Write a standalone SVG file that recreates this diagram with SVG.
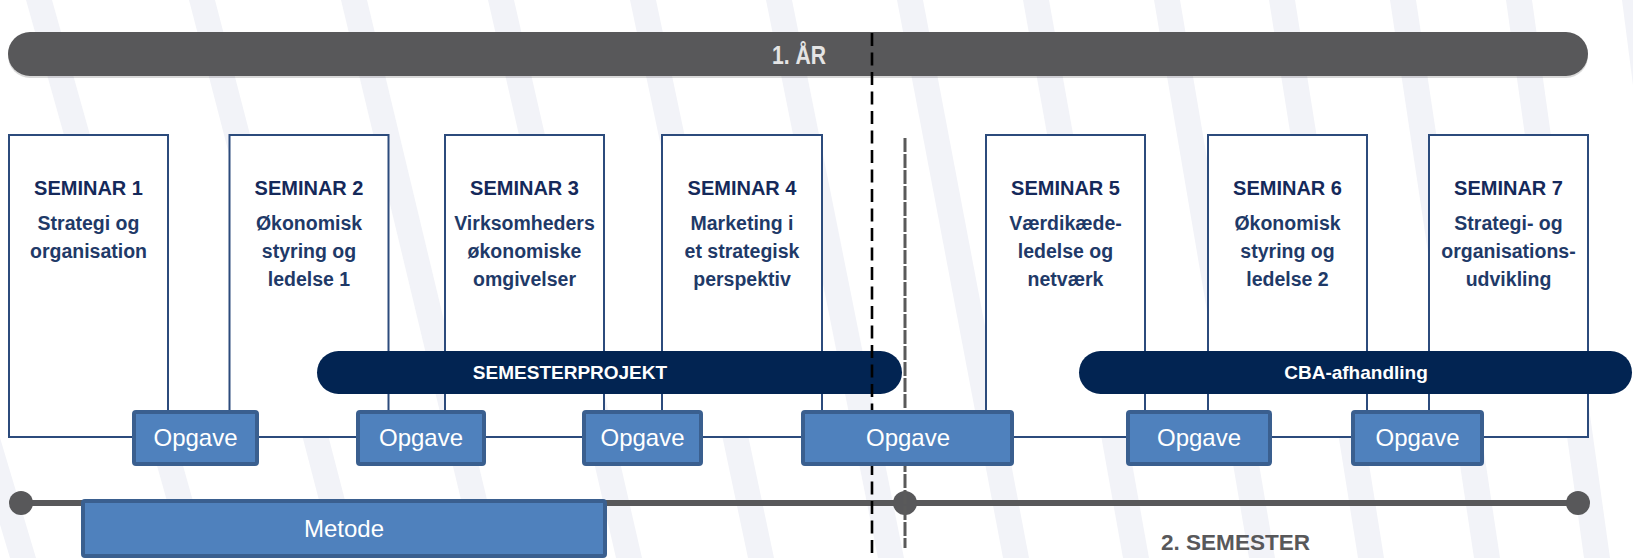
<svg xmlns="http://www.w3.org/2000/svg" width="1633" height="558" viewBox="0 0 1633 558">
<style>
.stripe{fill:#f2f3f8}
.sem{fill:#ffffff;stroke:#2c4b7c;stroke-width:2}
.title{font-family:"Liberation Sans",Arial,sans-serif;font-weight:bold;font-size:20px;fill:#15295a;text-anchor:middle}
.sub{font-family:"Liberation Sans",Arial,sans-serif;font-weight:bold;font-size:19.5px;fill:#1f3a68;text-anchor:middle}
.bar{fill:#022452}
.bartxt{font-family:"Liberation Sans",Arial,sans-serif;font-weight:bold;font-size:19px;fill:#ffffff;text-anchor:middle}
.opg{fill:#4f81bd;stroke:#3a5f8f;stroke-width:4}
.opgtxt{font-family:"Liberation Sans",Arial,sans-serif;font-size:24px;fill:#ffffff;text-anchor:middle}
.gray{fill:#58585a}
</style>
<rect x="0" y="0" width="1633" height="558" fill="#ffffff"/>
<g id="background">
<polygon class="stripe" points="-157,0 -131,0 36,558 10,558"/>
<polygon class="stripe" points="26,0 52,0 209,558 183,558"/>
<polygon class="stripe" points="189,0 215,0 360,558 334,558"/>
<polygon class="stripe" points="341,0 367,0 501,558 475,558"/>
<polygon class="stripe" points="488,0 514,0 642,558 616,558"/>
<polygon class="stripe" points="630,0 656,0 774,558 748,558"/>
<polygon class="stripe" points="766,0 792,0 904,558 878,558"/>
<polygon class="stripe" points="897,0 923,0 1029,558 1003,558"/>
<polygon class="stripe" points="1023,0 1049,0 1149,558 1123,558"/>
<polygon class="stripe" points="1154,0 1180,0 1275,558 1249,558"/>
<polygon class="stripe" points="1269,0 1295,0 1384,558 1358,558"/>
<polygon class="stripe" points="1390,0 1416,0 1500,558 1474,558"/>
<polygon class="stripe" points="1506,0 1532,0 1610,558 1584,558"/>
<polygon class="stripe" points="1622,0 1648,0 1720,558 1694,558"/>
</g>
<g id="year-bar">
<rect x="8" y="34" width="1580" height="44" rx="22" fill="#000000" opacity="0.15"/>
<rect x="8" y="32" width="1580" height="44" rx="22" class="gray"/>
<text x="799" y="64" font-family="'Liberation Sans',Arial,sans-serif" font-weight="bold" font-size="26" fill="#e4e4e4" text-anchor="middle" textLength="54" lengthAdjust="spacingAndGlyphs">1. ÅR</text>
</g>
<g id="seminar1">
<rect class="sem" x="9" y="135" width="159" height="302"/>
<text class="title" x="88.5" y="195">SEMINAR 1</text>
<text class="sub" x="88.5" y="229.5">Strategi og</text>
<text class="sub" x="88.5" y="257.5">organisation</text>
</g>
<g id="seminar2">
<rect class="sem" x="229.5" y="135" width="159" height="302"/>
<text class="title" x="309" y="195">SEMINAR 2</text>
<text class="sub" x="309" y="229.5">Økonomisk</text>
<text class="sub" x="309" y="257.5">styring og</text>
<text class="sub" x="309" y="286">ledelse 1</text>
</g>
<g id="seminar3">
<rect class="sem" x="445" y="135" width="159" height="302"/>
<text class="title" x="524.5" y="195">SEMINAR 3</text>
<text class="sub" x="524.5" y="229.5">Virksomheders</text>
<text class="sub" x="524.5" y="257.5">økonomiske</text>
<text class="sub" x="524.5" y="286">omgivelser</text>
</g>
<g id="seminar4">
<rect class="sem" x="662" y="135" width="160" height="302"/>
<text class="title" x="742" y="195">SEMINAR 4</text>
<text class="sub" x="742" y="229.5">Marketing i</text>
<text class="sub" x="742" y="257.5">et strategisk</text>
<text class="sub" x="742" y="286">perspektiv</text>
</g>
<g id="seminar5">
<rect class="sem" x="986" y="135" width="159" height="302"/>
<text class="title" x="1065.5" y="195">SEMINAR 5</text>
<text class="sub" x="1065.5" y="229.5">Værdikæde-</text>
<text class="sub" x="1065.5" y="257.5">ledelse og</text>
<text class="sub" x="1065.5" y="286">netværk</text>
</g>
<g id="seminar6">
<rect class="sem" x="1208" y="135" width="159" height="302"/>
<text class="title" x="1287.5" y="195">SEMINAR 6</text>
<text class="sub" x="1287.5" y="229.5">Økonomisk</text>
<text class="sub" x="1287.5" y="257.5">styring og</text>
<text class="sub" x="1287.5" y="286">ledelse 2</text>
</g>
<g id="seminar7">
<rect class="sem" x="1429" y="135" width="159" height="302"/>
<text class="title" x="1508.5" y="195">SEMINAR 7</text>
<text class="sub" x="1508.5" y="229.5">Strategi- og</text>
<text class="sub" x="1508.5" y="257.5">organisations-</text>
<text class="sub" x="1508.5" y="286">udvikling</text>
</g>
<g id="semesterprojekt">
<rect class="bar" x="317" y="351" width="585" height="43" rx="21.5"/>
<text class="bartxt" x="570" y="379">SEMESTERPROJEKT</text>
</g>
<g id="cba-afhandling">
<rect class="bar" x="1079" y="351" width="553" height="43" rx="21.5"/>
<text class="bartxt" x="1356" y="379" font-size="20.5">CBA-afhandling</text>
</g>
<g id="connectors">
<line x1="21" y1="503" x2="1578" y2="503" stroke="#58585a" stroke-width="6"/>
<circle class="gray" cx="21" cy="503" r="12"/>
<circle class="gray" cx="905" cy="503" r="12"/>
<circle class="gray" cx="1578" cy="503" r="12"/>
<line x1="872" y1="33" x2="872" y2="558" stroke="#000000" stroke-width="2.6" stroke-dasharray="13 6.5"/>
<line x1="905" y1="138" x2="905" y2="548" stroke="#5a5a5a" stroke-width="3" stroke-dasharray="14 2"/>
</g>
<g id="metode">
<rect class="opg" x="83" y="501" width="522" height="55" rx="2"/>
<text class="opgtxt" x="344" y="537">Metode</text>
</g>
<g id="opgave1">
<rect class="opg" x="134" y="412" width="123" height="52" rx="2"/>
<text class="opgtxt" x="195.5" y="446">Opgave</text>
</g>
<g id="opgave2">
<rect class="opg" x="358" y="412" width="126" height="52" rx="2"/>
<text class="opgtxt" x="421" y="446">Opgave</text>
</g>
<g id="opgave3">
<rect class="opg" x="584" y="412" width="117" height="52" rx="2"/>
<text class="opgtxt" x="642.5" y="446">Opgave</text>
</g>
<g id="opgave4">
<rect class="opg" x="803" y="412" width="209" height="52" rx="2"/>
<text class="opgtxt" x="908" y="446">Opgave</text>
</g>
<g id="opgave5">
<rect class="opg" x="1128" y="412" width="142" height="52" rx="2"/>
<text class="opgtxt" x="1199" y="446">Opgave</text>
</g>
<g id="opgave6">
<rect class="opg" x="1353" y="412" width="129" height="52" rx="2"/>
<text class="opgtxt" x="1417.5" y="446">Opgave</text>
</g>
<g id="semester-label">
<text x="1235.5" y="550" font-family="'Liberation Sans',Arial,sans-serif" font-weight="bold" font-size="22" fill="#58585a" text-anchor="middle" textLength="149" lengthAdjust="spacingAndGlyphs">2. SEMESTER</text>
</g>
</svg>
